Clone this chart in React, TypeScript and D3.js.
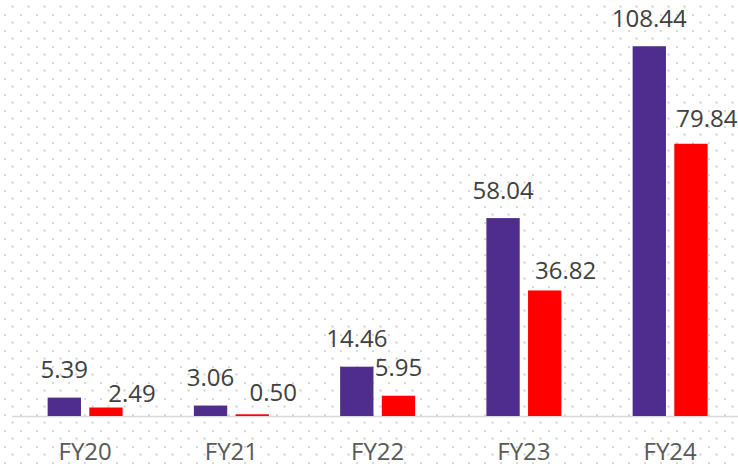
import React, { useEffect } from 'react'
import * as d3 from 'd3'

const categories = ['FY20', 'FY21', 'FY22', 'FY23', 'FY24']
const seriesNames = ['A', 'B']
const seriesA = [5.39, 3.06, 14.46, 58.04, 108.44]
const seriesB = [2.49, 0.5, 5.95, 36.82, 79.84]
const labelsA = ['5.39', '3.06', '14.46', '58.04', '108.44']
const labelsB = ['2.49', '0.50', '5.95', '36.82', '79.84']

// nudges for the second series labels, where they'd collide with the first
const nudgeB = [
  [26, 14],
  [21, 6],
  [0, 0],
  [21, 8],
  [16, 3]
]

const colors = ['#4f2d8e', '#ff0000']

const width = 738
const height = 468
const baseline = 416

export default function App() {
  useEffect(() => {
    document.body.style.margin = '0'
  }, [])

  const x = d3.scaleBand().domain(categories).range([12, 743.25]).padding(0)
  const inner = d3.scaleBand().domain(seriesNames).range([-37.5, 37.5]).paddingInner(0.2)
  const y = d3.scaleLinear().domain([0, 122]).range([baseline, 0])

  const center = (c: string) => (x(c) as number) + x.bandwidth() / 2
  const font = "'Open Sans', sans-serif"

  const renderBars = (values: number[], labels: string[], s: number) =>
    values.map((v, i) => {
      const c = center(categories[i])
      const bx = c + (inner(seriesNames[s]) as number)
      const top = y(v)
      const [dx, dy] = s === 1 ? nudgeB[i] : [0, 0]
      return (
        <g key={s + '-' + i}>
          <rect x={bx} y={top} width={inner.bandwidth()} height={baseline - top} fill={colors[s]} />
          <text
            x={bx + inner.bandwidth() / 2 + dx}
            y={top - 19.5 + dy}
            textAnchor="middle"
            fontFamily={font}
            fontSize={24}
            fill="#404040"
          >
            {labels[i]}
          </text>
        </g>
      )
    })

  return (
    <svg width={width} height={height} style={{ display: 'block' }}>
      <defs>
        <pattern id="dots" width={16} height={16} patternUnits="userSpaceOnUse">
          <circle cx={5} cy={15} r={1.1} fill="#d4d4d4" />
          <rect x={11.5} y={5.5} width={2} height={2} fill="#cfcfcf" />
        </pattern>
      </defs>
      <rect width={width} height={height} fill="#fff" />
      <rect width={width} height={height} fill="url(#dots)" />
      <line x1={12} x2={width} y1={baseline + 0.5} y2={baseline + 0.5} stroke="#d9d9d9" strokeWidth={1.5} />
      {renderBars(seriesA, labelsA, 0)}
      {renderBars(seriesB, labelsB, 1)}
      {categories.map(c => (
        <text
          key={c}
          x={center(c)}
          y={460}
          textAnchor="middle"
          fontFamily={font}
          fontSize={24}
          fill="#595959"
        >
          {c}
        </text>
      ))}
    </svg>
  )
}
